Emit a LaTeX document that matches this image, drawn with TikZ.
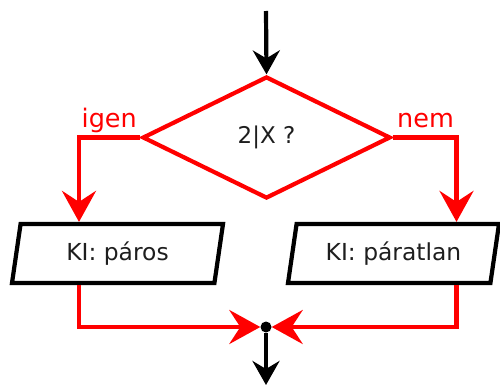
\documentclass[tikz,border=0pt]{standalone}
\usepackage{fontspec}
\setmainfont{DejaVu Sans}
\usetikzlibrary{shapes.geometric,arrows.meta}
\definecolor{fcred}{RGB}{255,0,0}
\definecolor{fctext}{RGB}{30,30,30}
\tikzset{
  redline/.style={draw=fcred, line width=4.2pt},
  redarrow/.style={redline, -{Stealth[length=31pt,width=34pt,inset=11pt]}},
  blackarrow/.style={draw=black, line width=4.2pt, -{Stealth[length=24pt,width=27pt,inset=8pt]}},
  decision/.style={diamond, draw=fcred, line width=4.2pt, inner sep=0pt, minimum width=248pt, minimum height=122pt, text=fctext, font=\fontsize{23}{27}\selectfont},
  iobox/.style={trapezium, trapezium left angle=70, trapezium right angle=110, trapezium stretches body, draw=black, line width=4.2pt, inner sep=0pt, minimum width=211pt, minimum height=59pt, text=fctext, font=\fontsize{23.4}{28}\selectfont},
  branchlabel/.style={text=fcred, font=\fontsize{25.5}{30}\selectfont, inner sep=0pt},
  joint/.style={circle, fill=black, inner sep=0pt, minimum size=11pt}
}
\begin{document}
\begin{tikzpicture}[x=1pt,y=-1pt]
\useasboundingbox (0,0) rectangle (500,385);
\node[decision] (dia) at (266.5,137.5) {2|X ?};
\node[iobox] (lbox) at (117.5,253.5) {KI: páros};
\node[iobox] (rbox) at (393.5,253.5) {KI: páratlan};
\node[joint] (dot) at (266,327) {};
\coordinate (top) at (266,11);
\coordinate (bottom) at (266,385);
\coordinate (lcol) at (79,0);
\coordinate (rcol) at (456.5,0);
\node[branchlabel, anchor=base east] (igen) at (137,128) {igen};
\node[branchlabel, anchor=base west] (nem) at (397,128) {nem};
\draw[blackarrow] (top) -- (dia.north);
\draw[redarrow] (dia.west) -| (lbox.north -| lcol);
\draw[redarrow] (dia.east) -| (rbox.north -| rcol);
\draw[redarrow] (lbox.south -| lcol) |- (dot);
\draw[redarrow] (rbox.south -| rcol) |- (dot);
\draw[blackarrow] (dot) -- (bottom);
\end{tikzpicture}
\end{document}
